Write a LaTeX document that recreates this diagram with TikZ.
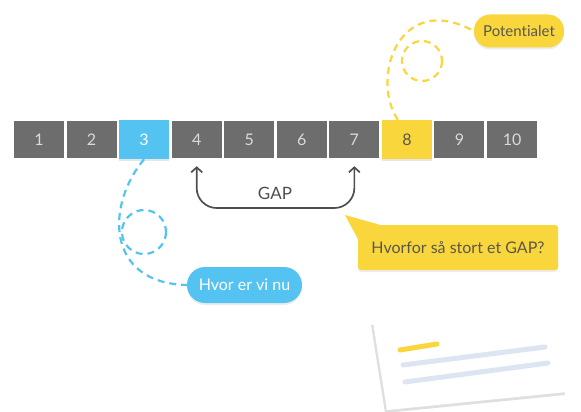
\documentclass[tikz,border=0pt]{standalone}
\usepackage{fontspec}
\setmainfont{Lato}[Ligatures={NoCommon}]
\usetikzlibrary{shadows,arrows.meta}
\definecolor{cellgray}{HTML}{6D6D6D}
\definecolor{celltext}{HTML}{DADADA}
\definecolor{hiblue}{HTML}{55C3F2}
\definecolor{hiyellow}{HTML}{F9D63C}
\definecolor{inktext}{HTML}{5A574C}
\definecolor{gapink}{HTML}{4F4F4F}
\definecolor{cardline}{HTML}{DCE5F1}
\tikzset{
  cell/.style={minimum width=50pt, minimum height=37pt, inner sep=0pt,
    fill=cellgray, text=celltext, font=\fontsize{16}{18}\selectfont},
  blue cell/.style={cell, fill=hiblue, text=white, minimum height=39pt,
    drop shadow={opacity=0.2, shadow xshift=0pt, shadow yshift=-2pt}},
  yellow cell/.style={cell, fill=hiyellow, text=inktext, minimum height=39pt,
    drop shadow={opacity=0.2, shadow xshift=0pt, shadow yshift=-2pt}},
  pill/.style={rounded corners=16pt, minimum height=33pt, inner sep=0pt,
    font=\fontsize{16}{18}\selectfont,
    drop shadow={opacity=0.15, shadow xshift=0pt, shadow yshift=-2pt}},
  trail/.style={dash pattern=on 7pt off 5pt, line width=2.2pt},
  gaparrow/.style={gapink, line width=1.7pt, rounded corners=20pt,
    arrows={Straight Barb[length=5pt,width=11pt]-Straight Barb[length=5pt,width=11pt]}},
}
\begin{document}
\begin{tikzpicture}[x=1pt,y=-1pt]
\useasboundingbox (0,0) rectangle (581,412);

\foreach \i/\s in {1/cell,2/cell,3/blue cell,4/cell,5/cell,6/cell,7/cell,8/yellow cell,9/cell,10/cell}
  \node[\s] (b\i) at ({39+(\i-1)*52.56},139.5) {\i};

\node[pill, fill=hiyellow, text=inktext, minimum width=90pt, font=\fontsize{15}{17}\selectfont] (pot) at (519,31) {Potentialet};
\node[pill, fill=hiblue, text=white, minimum width=115pt, rounded corners=18pt, minimum height=36pt] (hvor) at (244.5,285) {Hvor er vi nu};
\node[fill=hiyellow, text=inktext, rounded corners=3pt, minimum width=200pt, minimum height=45pt,
  font=\fontsize{16}{18}\selectfont,
  drop shadow={opacity=0.15, shadow xshift=0pt, shadow yshift=-2pt}] (why) at (458,247.5) {Hvorfor så stort et GAP?};
\fill[hiyellow] (345,215) -- ([xshift=22pt]why.north west) -- ([yshift=-14pt]why.north west) -- cycle;

\coordinate (loopb) at (144,232);
\coordinate (loopy) at (422,61);
\draw[trail, hiblue] (b3.south) .. controls +(-38,45) and +(-82,-2) .. (hvor.west);
\draw[trail, hiblue] (loopb) circle[radius=22];
\draw[trail, hiyellow] ([xshift=-9pt]b8.north) .. controls +(-28,-41) and +(-75,-41) .. (pot.west);
\draw[trail, hiyellow] (loopy) circle[radius=20];

\node[text=gapink, font=\fontsize{17}{19}\selectfont] (gap) at (275,193) {GAP};
\coordinate (gapbase) at (275,208);
\draw[gaparrow] ([yshift=-8pt]b4.south) |- (gapbase) -| ([yshift=-8pt]b7.south);

\path[fill=white, drop shadow={opacity=0.25, shadow xshift=-2pt, shadow yshift=-3pt}]
  (373,322) -- (553,304) -- (567,392) -- (387,410) -- cycle;
\draw[hiyellow, line width=5pt, line cap=round] (400,350) -- (437,344);
\draw[cardline, line width=5pt, line cap=round] (403,365) -- (545,347);
\draw[cardline, line width=5pt, line cap=round] (405,382) -- (548,363);
\end{tikzpicture}
\end{document}
